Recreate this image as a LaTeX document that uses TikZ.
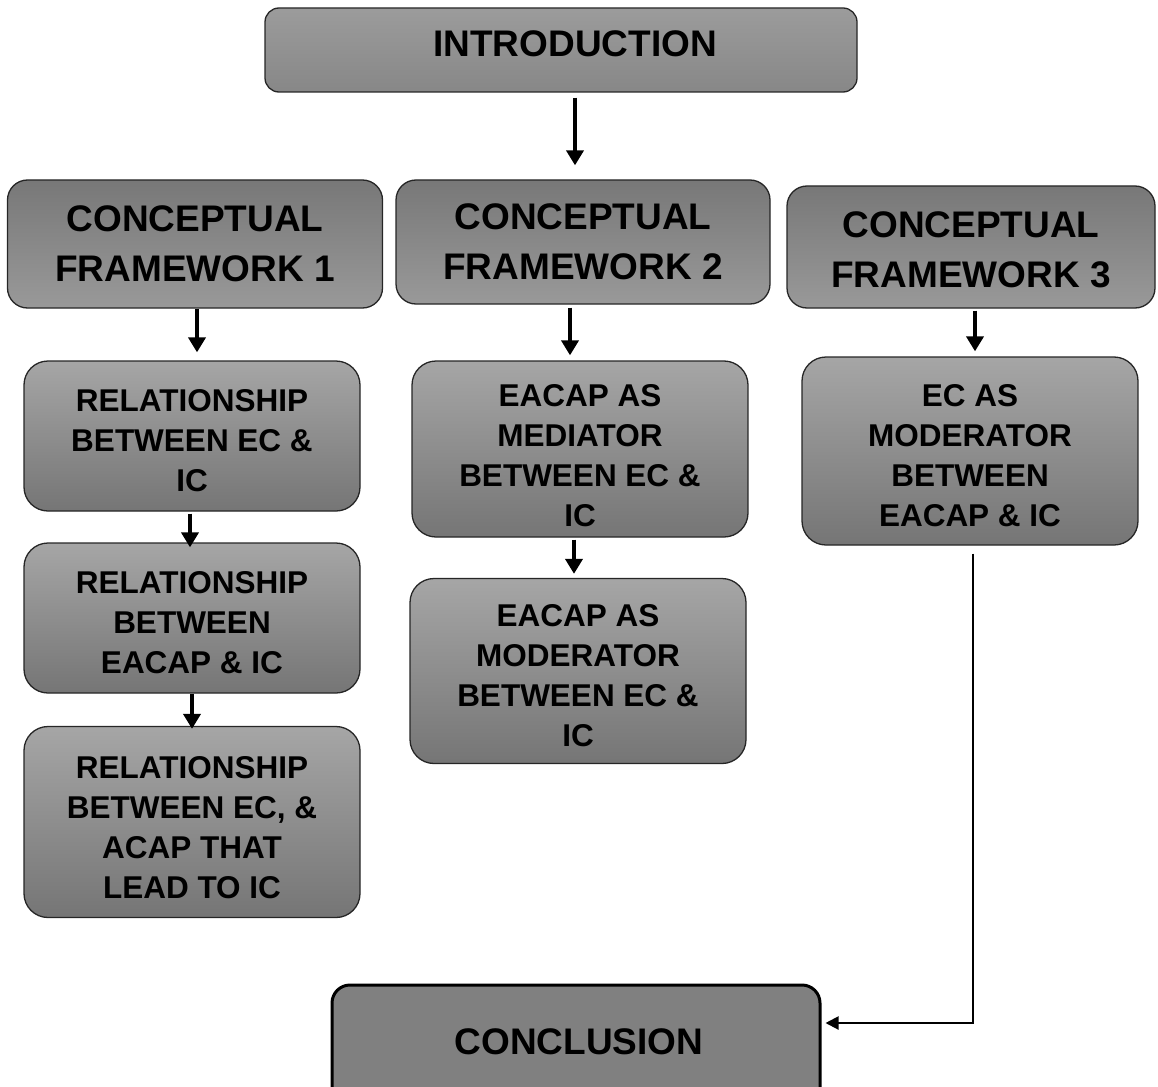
\documentclass[tikz,border=0pt]{standalone}
\usepackage{fontspec}
\setmainfont{Liberation Sans}
\usetikzlibrary{arrows.meta}
% invisible strut that adds room above a first line of text
\newcommand\topgap[1]{\rule{0pt}{#1}}
\begin{document}
\begin{tikzpicture}[x=1pt,y=-1pt,
  box/.style={draw=black!85, line width=1.3pt, rounded corners=24pt,
    align=center, inner sep=0pt, font=\bfseries\fontsize{31.5}{40}\selectfont,
    top color=gray!70, bottom color=gray!92!black},
  fwbox/.style={box, rounded corners=20pt, font=\bfseries\fontsize{37}{50}\selectfont,
    top color=gray!94!black, bottom color=gray!80},
  introbox/.style={box, rounded corners=14pt,
    top color=gray!78, bottom color=gray!94},
  endbox/.style={draw=black, line width=3pt, rounded corners=18pt, fill=gray,
    inner sep=0pt},
  bigtext/.style={font=\bfseries\fontsize{37}{44}\selectfont, inner sep=0pt},
  bigarrow/.style={line width=4.5pt, -{Triangle[width=17pt,length=15pt]}},
  thinarrow/.style={line width=2pt, -{Triangle[width=13pt,length=13pt]}}
]
\useasboundingbox (0,0) rectangle (1158,1086);

% top and bottom
\node[introbox, minimum width=592pt, minimum height=84pt] (intro) at (561,50) {};
\node[bigtext] (introtext) at (575,44) {INTRODUCTION};
\node[endbox, minimum width=488pt, minimum height=130pt] (concl) at (576,1050) {};
\node[bigtext] (concltext) at (579,1042) {CONCLUSION};

% three frameworks
\node[fwbox, minimum width=375pt, minimum height=128pt] (cf1) at (195,244) {CONCEPTUAL\\FRAMEWORK 1};
\node[fwbox, minimum width=374pt, minimum height=124pt] (cf2) at (583,242) {CONCEPTUAL\\FRAMEWORK 2};
\node[fwbox, minimum width=368pt, minimum height=122pt] (cf3) at (971,247) {\topgap{31pt}CONCEPTUAL\\FRAMEWORK 3};

% framework 1 column
\node[box, minimum width=336pt, minimum height=150pt] (r1) at (192,436) {\topgap{31pt}RELATIONSHIP\\BETWEEN EC \&\\IC};
\node[box, minimum width=336pt, minimum height=150pt] (r2) at (192,618) {\topgap{32pt}RELATIONSHIP\\BETWEEN\\EACAP \& IC};
\node[box, minimum width=336pt, minimum height=191pt] (r3) at (192,822) {\topgap{33pt}RELATIONSHIP\\BETWEEN EC, \&\\ACAP THAT\\LEAD TO IC};

% framework 2 column
\node[box, minimum width=336pt, minimum height=176pt] (m1) at (580,449) {\topgap{36pt}EACAP AS\\MEDIATOR\\BETWEEN EC \&\\IC};
\node[box, minimum width=336pt, minimum height=185pt] (m2) at (578,671) {\topgap{32pt}EACAP AS\\MODERATOR\\BETWEEN EC \&\\IC};

% framework 3 column
\node[box, minimum width=336pt, minimum height=188pt] (c3) at (970,451) {\topgap{32pt}EC AS\\MODERATOR\\BETWEEN\\EACAP \& IC};

% arrows
\draw[bigarrow, shorten <=5pt, shorten >=14pt] ([xshift=14pt]intro.south) -- ([xshift=14pt]intro.south |- cf2.north);
\draw[bigarrow, shorten >=8pt] ([xshift=2pt]cf1.south) -- ([xshift=2pt]cf1.south |- r1.north);
\draw[bigarrow, shorten <=2pt, shorten >=-5pt] ([xshift=-2pt]r1.south) -- ([xshift=-2pt]r1.south |- r2.north);
\draw[bigarrow, shorten >=-3pt] (r2.south) -- (r3.north);
\draw[bigarrow, shorten <=3pt, shorten >=5pt] ([xshift=-13pt]cf2.south) -- ([xshift=-13pt]cf2.south |- m1.north);
\draw[bigarrow, shorten <=2pt, shorten >=4pt] ([xshift=-6pt]m1.south) -- ([xshift=-6pt]m1.south |- m2.north);
\draw[bigarrow, shorten <=2pt, shorten >=5pt] ([xshift=4pt]cf3.south) -- ([xshift=4pt]cf3.south |- c3.north);
\draw[thinarrow, shorten <=8pt, shorten >=4pt] ([xshift=3pt]c3.south) |- ([yshift=27pt]concl.east);
\end{tikzpicture}
\end{document}
